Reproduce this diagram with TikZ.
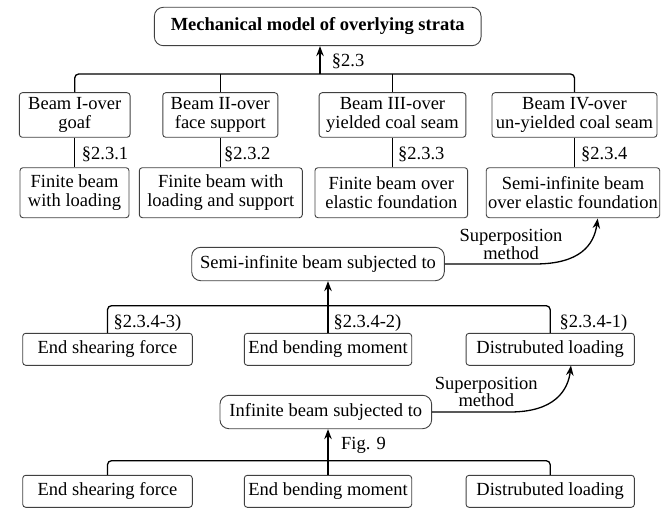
\documentclass[tikz,border=0pt]{standalone}
\usepackage{fontspec}
\setmainfont{Liberation Serif}
\usetikzlibrary{arrows.meta}
\begin{document}
\begin{tikzpicture}[x=1pt,y=-1pt,
  txt/.style={font=\fontsize{18.5}{18.5}\selectfont},
  box/.style={txt,draw=black!75,line width=0.9pt,rounded corners=3pt,inner sep=0pt,align=center},
  rbox/.style={box,rounded corners=9pt},
  lbl/.style={txt,anchor=west,inner sep=0pt},
  conn/.style={line width=1.3pt,rounded corners=4pt},
  arr/.style={conn,-{Stealth[length=10pt,width=7.5pt]}}]
\useasboundingbox (0,0) rectangle (661,508);
% top
\node[rbox,minimum width=326.7pt,minimum height=38.4pt,font=\fontsize{18.5}{18.5}\selectfont\bfseries] (top) at (317.7,26.5) {Mechanical model of overlying strata};
% beams
\node[box,minimum width=110.7pt,minimum height=44.6pt] (b1) at (74.7,115) {Beam I-over\\goaf};
\node[box,minimum width=115pt,minimum height=44.6pt] (b2) at (220.3,115) {Beam II-over\\face support};
\node[box,minimum width=146.7pt,minimum height=44.6pt] (b3) at (392.5,115) {Beam III-over\\yielded coal seam};
\node[box,minimum width=165pt,minimum height=44.6pt] (b4) at (574.5,115) {Beam IV-over\\un-yielded coal seam};
% finite
\node[box,minimum width=109pt,minimum height=50pt] (f1) at (74.5,192.7) {Finite beam\\with loading};
\node[box,minimum width=163pt,minimum height=50pt] (f2) at (220.8,192.7) {Finite beam with\\loading and support};
\node[box,minimum width=152.7pt,minimum height=50pt] (f3) at (391.3,192.7) {Finite beam over\\elastic foundation};
\node[box,minimum width=173.5pt,minimum height=50pt] (f4) at (573,192.7) {Semi-infinite beam\\over elastic foundation};
% semi
\node[rbox,minimum width=252.6pt,minimum height=33.4pt] (semi) at (318,264) {Semi-infinite beam subjected to};
% middle row
\node[box,minimum width=169.6pt,minimum height=32pt] (e1) at (107.5,349.3) {End shearing force};
\node[box,minimum width=167.4pt,minimum height=32pt] (e2) at (328,349.3) {End bending moment};
\node[box,minimum width=168.3pt,minimum height=32pt] (e3) at (550.2,349.3) {Distrubuted loading};
% infinite
\node[rbox,minimum width=211.7pt,minimum height=33.4pt] (inf) at (325.8,412) {Infinite beam subjected to};
% bottom row
\node[box,minimum width=169.6pt,minimum height=32pt] (g1) at (107.5,491.3) {End shearing force};
\node[box,minimum width=167.4pt,minimum height=32pt] (g2) at (328,491.3) {End bending moment};
\node[box,minimum width=168.3pt,minimum height=32pt] (g3) at (550.2,491.3) {Distrubuted loading};
% connectors top
\coordinate (busT) at (320,74);
\draw[conn] (b1.north) |- (busT) -| (b4.north);
\draw[conn] (b2.north) -- (b2.north |- busT);
\draw[conn] (b3.north) -- (b3.north |- busT);
\draw[arr] (busT) -- (busT |- top.south);
\draw[conn] (b1.south) -- (b1.south |- f1.north);
\draw[conn] (b2.south) -- (b2.south |- f2.north);
\draw[conn] (b3.south) -- (b3.south |- f3.north);
\draw[conn] (b4.south) -- (b4.south |- f4.north);
% middle
\coordinate (busM) at (328,305.7);
\draw[conn] (e1.north) |- (busM) -| (e3.north);
\draw[arr] (e2.north) -- (e2.north |- semi.south);
% bottom
\coordinate (busB) at (327.3,460.7);
\draw[conn] (g1.north) |- (busB) -| (g3.north);
\draw[arr] (g2.north) -- (g2.north |- inf.south);
% curves
\coordinate (t1) at (597.7,218.5);
\draw[arr,rounded corners=0pt] (semi.east) -- (535,264) .. controls (580,264) and (594,245) .. (t1);
\coordinate (t2) at (571,365.5);
\draw[arr,rounded corners=0pt] (inf.east) -- (510,412) .. controls (555,412) and (568,390) .. (t2);
% labels
\node[txt,align=center,inner sep=0pt,font=\fontsize{18.5}{17.6}\selectfont] (sp1) at (511,244.5) {Superposition\\method};
\node[txt,align=center,inner sep=0pt,font=\fontsize{18.5}{17.6}\selectfont] (sp2) at (486.3,391.8) {Superposition\\method};
\node[lbl] (l0) at (331.7,61.7) {§2.3};
\node[lbl] (l1) at (81.7,154) {§2.3.1};
\node[lbl] (l2) at (224,154) {§2.3.2};
\node[lbl] (l3) at (398,154) {§2.3.3};
\node[lbl] (l4) at (581,154) {§2.3.4};
\node[lbl] (m3) at (113.3,323) {§2.3.4-3)};
\node[lbl] (m2) at (333.3,323) {§2.3.4-2)};
\node[lbl] (m1) at (559.3,323) {§2.3.4-1)};
\node[lbl] (fg) at (341,445.3) {Fig. 9};
\end{tikzpicture}
\end{document}
